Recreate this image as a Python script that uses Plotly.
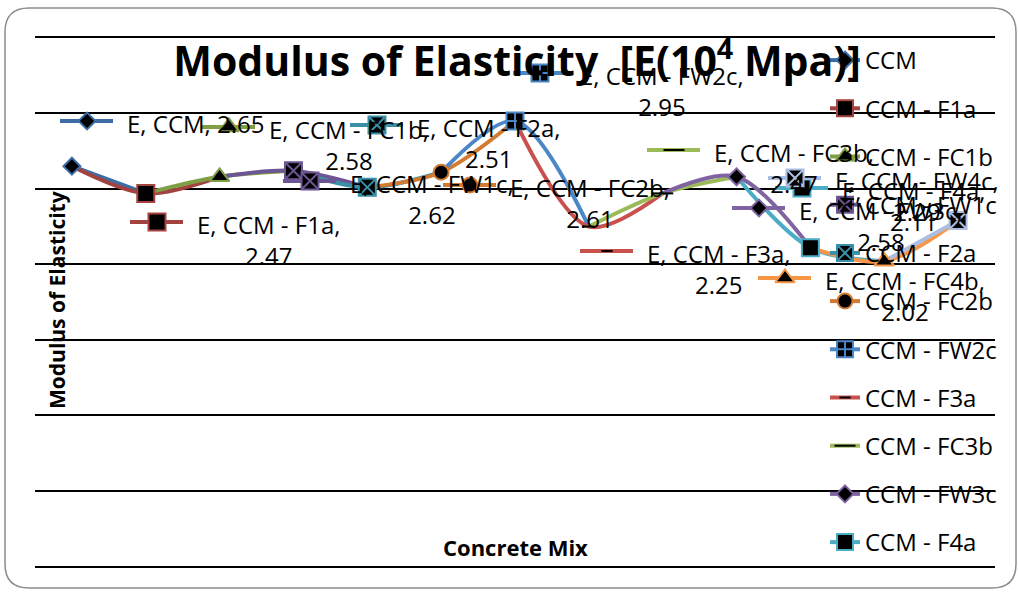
import plotly.graph_objects as go

# ---------------- data ----------------
categories = ["CCM", "CCM - F1a", "CCM - FC1b", "CCM - FW1c", "CCM - F2a", "CCM - FC2b",
              "CCM - FW2c", "CCM - F3a", "CCM - FC3b", "CCM - FW3c", "CCM - F4a",
              "CCM - FC4b", "CCM - FW4c"]
values = [2.65, 2.47, 2.58, 2.62, 2.51, 2.61, 2.95, 2.25, 2.47, 2.58, 2.11, 2.02, 2.29]
series_prefix = "E"
y_ticks = [0, 0.5, 1.0, 1.5, 2.0, 2.5, 3.0, 3.5]

# ---------------- styles ----------------
colors = ["#3D6DA7", "#A3423F", "#7F9F47", "#6B5592", "#3990A8", "#D27B31",
          "#4B86C6", "#C8504D", "#9BBB59", "#8064A2", "#4BACC6", "#F79646", "#A9BEE0"]
symbols = ["diamond", "square", "triangle-up", "square-x", "square-x", "circle",
           "square-cross", "line-ew", "line-ew", "diamond", "square", "triangle-up", "square-x"]
msizes = [13, 17, 17, 17, 17, 15, 17, 8, 15, 13, 17, 17, 17]
# label anchor (left of text, centre of first line) in pixel coordinates
label_pos = [(125, 121), (195, 222), (267, 127), (348, 181), (415, 125), (508, 185),
             (578, 73), (645, 251), (712, 150), (797, 208), (840, 188), (823, 278), (833, 178)]

W, H = 1018, 592
L, R, T, B = 35, 995, 38, 566
FONT = "Open Sans"


def px(x):
    return (x - L) / (R - L)


def py(y):
    return (B - y) / (B - T)


fig = go.Figure()
n = len(categories)


def marker_style(i):
    sym = symbols[i]
    if sym == "line-ew":
        return dict(symbol=sym, size=msizes[i], color="black",
                    line=dict(color="black", width=2))
    return dict(symbol=sym, size=msizes[i], color="black",
                line=dict(color=colors[i], width=2))


# smoothed connecting lines (each series spans its neighbours)
for i in range(n):
    idx = [j for j in (i - 1, i, i + 1) if 0 <= j < n]
    if i == 0:
        idx = [0, 1]
    fig.add_trace(go.Scatter(
        x=[categories[j] for j in idx], y=[values[j] for j in idx],
        mode="lines", line=dict(color=colors[i], width=4, shape="spline", smoothing=0.9),
        showlegend=False, hoverinfo="skip"))

# markers (legend items)
for i in range(n):
    fig.add_trace(go.Scatter(
        x=[categories[i]], y=[values[i]], mode="lines+markers", name=categories[i],
        line=dict(color=colors[i], width=4), marker=marker_style(i),
        legendgroup=str(i), showlegend=(i < 11)))

# data-label legend keys (overlay pixel axes)
for i in range(n):
    tx, ty = label_pos[i]
    fig.add_trace(go.Scatter(
        x=[tx - 65, tx - 12], y=[ty, ty], xaxis="x2", yaxis="y2", mode="lines",
        line=dict(color=colors[i], width=4), showlegend=False, hoverinfo="skip"))
    fig.add_trace(go.Scatter(
        x=[tx - 38], y=[ty], xaxis="x2", yaxis="y2", mode="markers",
        marker=marker_style(i), showlegend=False, hoverinfo="skip"))

annotations = []
for i in range(n):
    tx, ty = label_pos[i]
    if i == 0:
        txt = f"{series_prefix}, {categories[i]}, {values[i]:.2f}"
    else:
        txt = f"{series_prefix}, {categories[i]},<br>{values[i]:.2f}"
    annotations.append(dict(
        x=tx, y=ty - 16, xref="x2", yref="y2", xanchor="left", yanchor="top",
        text=txt, showarrow=False, align="center",
        font=dict(family=FONT, size=24, color="black")))

annotations.append(dict(
    x=57, y=300, xref="x2", yref="y2", text="<b>Modulus of Elasticity</b>",
    textangle=-90, showarrow=False, font=dict(family=FONT, size=21, color="black")))
annotations.append(dict(
    x=515, y=547, xref="x2", yref="y2", text="<b>Concrete Mix</b>",
    showarrow=False, font=dict(family=FONT, size=22, color="black")))

# outer rounded border
x0, y0, x1, y1, r = 5, 8, 1016, 588, 24
path = (f"M {px(x0 + r)},{py(y0)} L {px(x1 - r)},{py(y0)} "
        f"Q {px(x1)},{py(y0)} {px(x1)},{py(y0 + r)} L {px(x1)},{py(y1 - r)} "
        f"Q {px(x1)},{py(y1)} {px(x1 - r)},{py(y1)} L {px(x0 + r)},{py(y1)} "
        f"Q {px(x0)},{py(y1)} {px(x0)},{py(y1 - r)} L {px(x0)},{py(y0 + r)} "
        f"Q {px(x0)},{py(y0)} {px(x0 + r)},{py(y0)} Z")

fig.update_layout(
    width=W, height=H,
    margin=dict(l=L, r=W - R, t=T, b=H - B),
    paper_bgcolor="white", plot_bgcolor="white",
    title=dict(text="<b>Modulus of Elasticity  [E(10<sup>4</sup> Mpa)]</b>",
               x=517 / W, xanchor="center", y=1 - 62 / H, yanchor="middle",
               font=dict(family=FONT, size=41, color="black")),
    xaxis=dict(type="category", categoryarray=categories, range=[-0.5, n - 0.5],
               showticklabels=False, ticks="", showgrid=False, zeroline=False,
               showline=True, linecolor="black", linewidth=1.5, mirror=True),
    yaxis=dict(range=[0, 3.5], tickvals=y_ticks, showticklabels=False, ticks="",
               showgrid=True, gridcolor="black", gridwidth=1.5, zeroline=False,
               showline=False),
    xaxis2=dict(range=[L, R], overlaying="x", anchor="y2", visible=False),
    yaxis2=dict(range=[B, T], overlaying="y", anchor="x2", visible=False),
    legend=dict(x=px(825), xanchor="left", y=1.0, yanchor="top",
                bgcolor="rgba(0,0,0,0)", font=dict(family=FONT, size=24, color="black"),
                tracegroupgap=14, itemwidth=30, maxheight=1.0),
    annotations=annotations,
    shapes=[dict(type="path", path=path, xref="paper", yref="paper",
                 line=dict(color="#8C8C8C", width=1.5), layer="below")],
)

fig.write_html("out.html")
